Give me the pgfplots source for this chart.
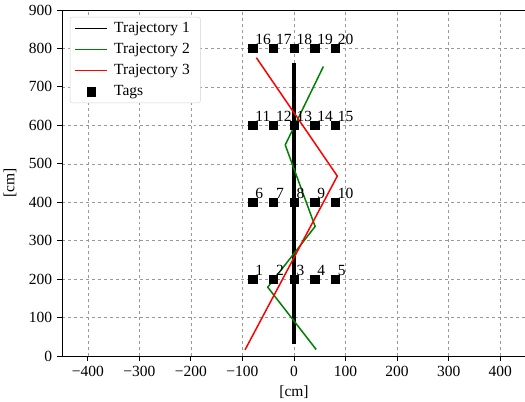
\documentclass[border=0pt]{standalone}
\usepackage{fontspec}
\setmainfont{Liberation Serif}
\usepackage{pgfplots}
\pgfplotsset{compat=1.18}
\definecolor{mplgreen}{RGB}{0,128,0}
\pgfplotstableread{
x y label
-80 200 1
-40 200 2
0 200 3
40 200 4
80 200 5
-80 400 6
-40 400 7
0 400 8
40 400 9
80 400 10
-80 600 11
-40 600 12
0 600 13
40 600 14
80 600 15
-80 800 16
-40 800 17
0 800 18
40 800 19
80 800 20
}\tags
\newcommand{\fs}{\fontsize{15.5bp}{18.5bp}\selectfont}
\pgfplotsset{mylegend/.style={legend image code/.code={\draw[mark repeat=2,mark phase=2,##1] plot coordinates {(0bp,0bp) (16bp,0bp) (32bp,0bp)};}}}
\begin{document}
\fs
\begin{tikzpicture}
\begin{axis}[
  at={(0bp,0bp)}, anchor=south west,
  scale only axis, width=464bp, height=346bp,
  xmin=-450, xmax=450, ymin=0, ymax=900,
  xtick={-400,-300,...,400}, ytick={0,100,...,900},
  xticklabels={−400,−300,−200,−100,0,100,200,300,400},
  grid=major, grid style={dashed, gray!80, line width=0.5bp},
  tick align=outside, tick pos=left, major tick length=4.5bp,
  tick style={black, line width=0.8bp},
  axis line style={line width=0.8bp},
  xlabel={[cm]}, ylabel={[cm]},
  /pgf/number format/assume math mode=true,
  ticklabel style={font=\fs},
  label style={font=\fs},
  xlabel style={yshift=1bp},
  ylabel style={yshift=2bp},
  legend style={at={(8bp,339bp)}, anchor=north west, draw=gray!35, rounded corners=2bp,
    fill=white, font=\fs,
    row sep=4.5bp, inner xsep=4bp, inner ysep=3bp,
    nodes={inner xsep=6.5bp}},
  legend cell align=left,
]
\addplot[black, line width=4.3bp, forget plot] coordinates {(0,32) (0,762)};
\addlegendimage{black, line width=1.5bp, mylegend}
\addlegendentry{Trajectory 1}
\addplot[mplgreen, line width=1.5bp, line join=round, mylegend] coordinates {(43,17) (-51,179) (41,337) (-17,549) (57,753)};
\addlegendentry{Trajectory 2}
\addplot[red, line width=1.5bp, line join=round, mylegend] coordinates {(-95,16) (84,468) (-73,776)};
\addlegendentry{Trajectory 3}
\addplot[only marks, mark=square*, mark size=4.2bp, black, mylegend,
  nodes near coords, point meta=explicit symbolic,
  nodes near coords style={anchor=base west, inner sep=0pt, xshift=2.5bp, yshift=4bp, font=\fs}]
  table[x=x, y=y, meta=label] {\tags};
\addlegendentry{Tags}
\end{axis}
\pgfresetboundingbox
\path (-62bp,-46bp) rectangle (463bp,356bp);
\end{tikzpicture}
\end{document}
